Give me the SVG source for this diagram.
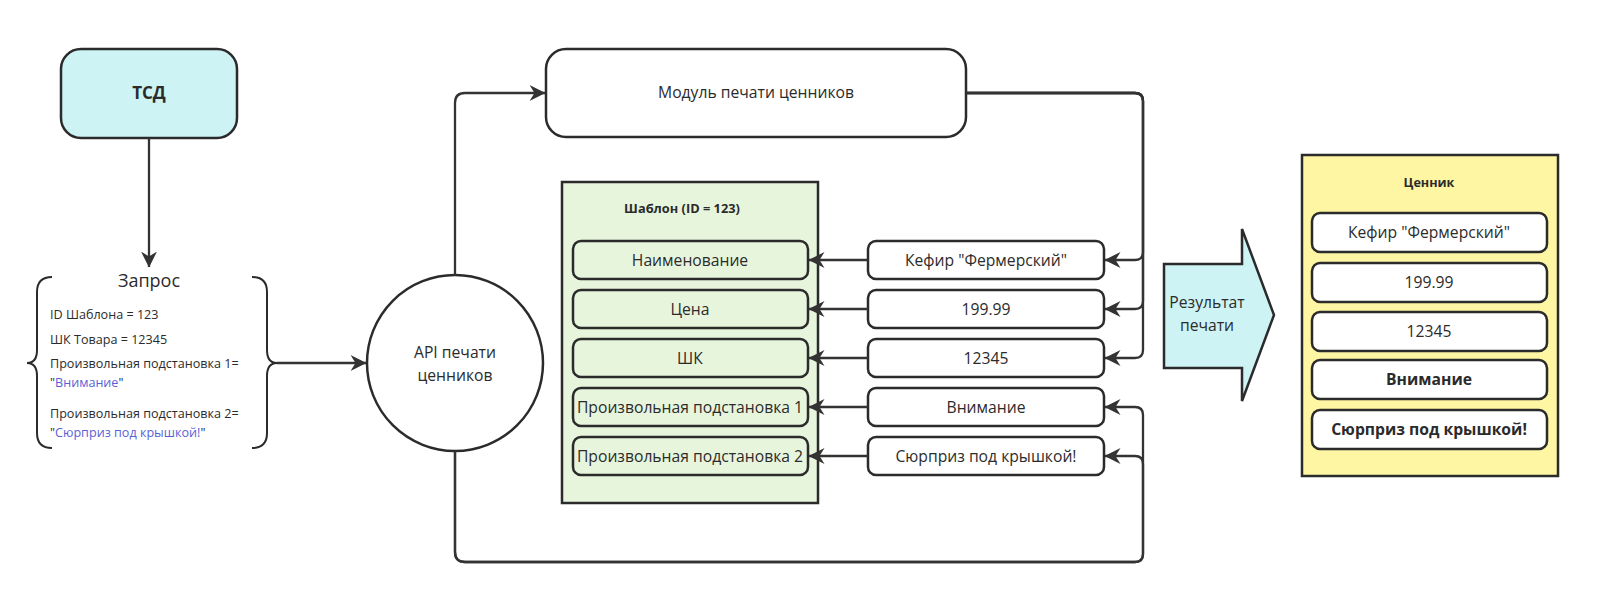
<svg xmlns="http://www.w3.org/2000/svg" width="1600" height="598" viewBox="0 0 1600 598">
<defs>
<marker id="ah" viewBox="0 0 16 16" refX="15.5" refY="8" markerWidth="16" markerHeight="16" markerUnits="userSpaceOnUse" orient="auto">
<path d="M0,0 L16,8 L0,16 L5,8 Z" fill="#333"/>
</marker>
<style>
text{font-family:"Open Sans","Noto Sans","Liberation Sans",sans-serif;fill:#2b2b2b}
.box{stroke:#2b2b2b;stroke-width:2.5}
.w{fill:#fff}
.f{fill:#e8f5dd}
.c{fill:none;stroke:#333;stroke-width:2.3;marker-end:url(#ah)}
.t15{font-size:15.7px;text-anchor:middle}
.b{font-weight:bold}
.blue{fill:#5a5fd6}
</style>
</defs>
<rect width="1600" height="598" fill="#fff"/>

<g id="tsd">
<rect class="box" x="61" y="49" width="176" height="89" rx="20" fill="#cdf3f4"/>
<text x="149" y="99" font-size="17" class="b" text-anchor="middle">ТСД</text>
</g>

<g id="zapros">
<path d="M52 277 Q37 277 37 292 V350 Q37 363 27 363 Q37 363 37 376 V433 Q37 448 52 448" fill="none" stroke="#2b2b2b" stroke-width="2"/>
<path d="M252 277 Q267 277 267 292 V350 Q267 363 277 363 Q267 363 267 376 V433 Q267 448 252 448" fill="none" stroke="#2b2b2b" stroke-width="2"/>
<text x="149" y="287" font-size="18" text-anchor="middle">Запрос</text>
<text x="50" y="319" font-size="12.6">ID Шаблона = 123</text>
<text x="50" y="344" font-size="12.6">ШК Товара = 12345</text>
<text x="50" y="368" font-size="12.6">Произвольная подстановка 1=</text>
<text x="50" y="387" font-size="12.6">"<tspan class="blue">Внимание</tspan>"</text>
<text x="50" y="418" font-size="12.6">Произвольная подстановка 2=</text>
<text x="50" y="437" font-size="12.6">"<tspan class="blue">Сюрприз под крышкой!</tspan>"</text>
</g>

<g id="api">
<circle class="box w" cx="455" cy="363" r="88"/>
<text class="t15" x="455" y="358">API печати</text>
<text class="t15" x="455" y="381">ценников</text>
</g>

<g id="module">
<rect class="box w" x="546" y="49" width="420" height="88" rx="20"/>
<text class="t15" x="756" y="98">Модуль печати ценников</text>
</g>

<g id="template">
<rect class="box f" x="562" y="182" width="256" height="321"/>
<text x="682" y="213" font-size="12.8" class="b" text-anchor="middle">Шаблон (ID = 123)</text>
<rect class="box f" x="573" y="241" width="235" height="38" rx="8"/>
<text class="t15" x="690" y="265.5">Наименование</text>
<rect class="box f" x="573" y="290" width="235" height="38" rx="8"/>
<text class="t15" x="690" y="314.5">Цена</text>
<rect class="box f" x="573" y="339" width="235" height="38" rx="8"/>
<text class="t15" x="690" y="363.5">ШК</text>
<rect class="box f" x="573" y="388" width="235" height="38" rx="8"/>
<text class="t15" x="690" y="412.5">Произвольная подстановка 1</text>
<rect class="box f" x="573" y="437" width="235" height="38" rx="8"/>
<text class="t15" x="690" y="461.5">Произвольная подстановка 2</text>
</g>

<g id="values">
<rect class="box w" x="868" y="241" width="236" height="38" rx="8"/>
<text class="t15" x="986" y="265.5">Кефир "Фермерский"</text>
<rect class="box w" x="868" y="290" width="236" height="38" rx="8"/>
<text class="t15" x="986" y="314.5">199.99</text>
<rect class="box w" x="868" y="339" width="236" height="38" rx="8"/>
<text class="t15" x="986" y="363.5">12345</text>
<rect class="box w" x="868" y="388" width="236" height="38" rx="8"/>
<text class="t15" x="986" y="412.5">Внимание</text>
<rect class="box w" x="868" y="437" width="236" height="38" rx="8"/>
<text class="t15" x="986" y="461.5">Сюрприз под крышкой!</text>
</g>

<g id="result-arrow">
<path d="M1164 264 H1242 V229 L1274 315 L1242 401 V368 H1164 Z" fill="#cdf3f4" stroke="#2b2b2b" stroke-width="2.5" stroke-linejoin="miter"/>
<text class="t15" x="1207" y="308">Результат</text>
<text class="t15" x="1207" y="331">печати</text>
</g>

<g id="pricetag">
<rect class="box" x="1302" y="155" width="256" height="321" fill="#fff6a3"/>
<text x="1429" y="187" font-size="12.6" class="b" text-anchor="middle">Ценник</text>
<rect class="box w" x="1312" y="213" width="235" height="39" rx="8"/>
<text class="t15" x="1429" y="238">Кефир "Фермерский"</text>
<rect class="box w" x="1312" y="263" width="235" height="39" rx="8"/>
<text class="t15" x="1429" y="288">199.99</text>
<rect class="box w" x="1312" y="312" width="235" height="39" rx="8"/>
<text class="t15" x="1429" y="337">12345</text>
<rect class="box w" x="1312" y="360" width="235" height="39" rx="8"/>
<text class="t15 b" x="1429" y="385">Внимание</text>
<rect class="box w" x="1312" y="410" width="235" height="39" rx="8"/>
<text class="t15 b" x="1429" y="435">Сюрприз под крышкой!</text>
</g>

<g id="connectors">
<path class="c" d="M149 138 V267"/>
<path class="c" d="M277 363 H366"/>
<path class="c" d="M455 275 V103 Q455 93 465 93 H545"/>
<path class="c" d="M966 93 H1135 Q1143 93 1143 101 V252 Q1143 260 1135 260 H1105"/>
<path class="c" d="M966 93 H1135 Q1143 93 1143 101 V301 Q1143 309 1135 309 H1105"/>
<path class="c" d="M966 93 H1135 Q1143 93 1143 101 V350 Q1143 358 1135 358 H1105"/>
<path class="c" d="M455 451 V552 Q455 562 465 562 H1135 Q1143 562 1143 554 V415 Q1143 407 1135 407 H1105"/>
<path class="c" d="M455 451 V552 Q455 562 465 562 H1135 Q1143 562 1143 554 V464 Q1143 456 1135 456 H1105"/>
<path class="c" d="M868 260 H809"/>
<path class="c" d="M868 309 H809"/>
<path class="c" d="M868 358 H809"/>
<path class="c" d="M868 407 H809"/>
<path class="c" d="M868 456 H809"/>
</g>
</svg>
